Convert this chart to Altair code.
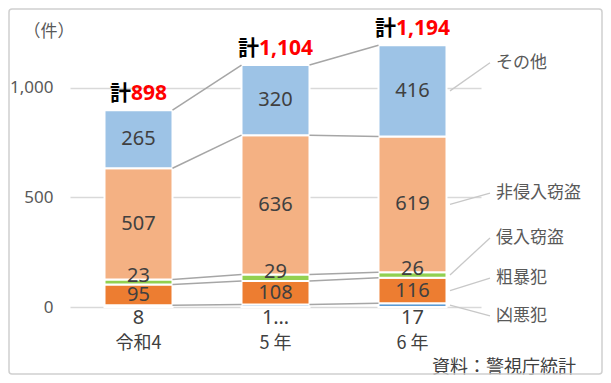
import altair as alt
import pandas as pd

# ---------------- data ----------------
years = ["令和4", "5 年", "6 年"]
categories = ["凶悪犯", "粗暴犯", "侵入窃盗", "非侵入窃盗", "その他"]
kyoaku = [8, 11, 17]
sobo = [95, 108, 116]
shinnyu = [23, 29, 26]
hishinnyu = [507, 636, 619]
sonota = [265, 320, 416]
totals = [898, 1104, 1194]
kyoaku_labels = ["8", "1…", "17"]
y_ticks = [0, 500, 1000]

# ---------------- style / layout ----------------
colors = ["#5B9BD5", "#ED7D31", "#92D050", "#F4B183", "#9DC3E6"]
PW, PH = 411, 274
PAD = {"left": 62, "top": 25, "right": 122, "bottom": 68}
UNIT = PW / 3.0
HW = 34 / UNIT
Y_MAX = 1250
legend_label_y = [-41, 132, 315, 520, 1114]
LEADER_START = 380 / UNIT
LEADER_END = 420 / UNIT
LABEL_X = 426 / UNIT
GRAY_TXT = "#595959"
DARK_TXT = "#404040"
JP = "Noto Sans CJK JP"
NUM = "Noto Sans"

series = [kyoaku, sobo, shinnyu, hishinnyu, sonota]

seg_rows = []
cum = {}
for i, yr in enumerate(years):
    b = 0
    for c, cat in enumerate(categories):
        v = series[c][i]
        seg_rows.append({"year": yr, "cat": cat, "v": v,
                         "x0": i + 0.5 - HW, "x1": i + 0.5 + HW, "xc": i + 0.5,
                         "y0": b, "y1": b + v, "ym": b + v / 2})
        b += v
        cum[(i, c)] = b
seg = pd.DataFrame(seg_rows)
seg_mid = seg[~seg["cat"].isin(["凶悪犯", "侵入窃盗"])].reset_index(drop=True)
seg_shin = seg[seg["cat"] == "侵入窃盗"].reset_index(drop=True)

# series lines between bars (long format: two points per segment)
line_rows = []
for i in range(len(years) - 1):
    for c in range(len(categories)):
        g = f"s{i}_{c}"
        line_rows.append({"g": g, "x": i + 0.5 + HW, "y": cum[(i, c)]})
        line_rows.append({"g": g, "x": i + 1.5 - HW, "y": cum[(i + 1, c)]})
lines = pd.DataFrame(line_rows)

# leader lines for the category labels at the right
last = seg[seg["year"] == years[-1]].reset_index(drop=True)
lead_rows = []
for c, cat in enumerate(categories):
    lead_rows.append({"g": cat, "x": LEADER_START, "y": float(last.loc[c, "ym"])})
    lead_rows.append({"g": cat, "x": LEADER_END, "y": legend_label_y[c]})
leads = pd.DataFrame(lead_rows)
leg = pd.DataFrame({"cat": categories, "ye": legend_label_y, "xl": [LABEL_X] * 5})

def num_w(s, fs=21):
    return sum(0.27 * fs if ch == "," else 0.575 * fs for ch in s)

KEI_W = 21
tot_rows = []
for i, t in enumerate(totals):
    s = f"{t:,}"
    w = KEI_W + num_w(s)
    start = i + 0.5 - (w / 2) / UNIT
    tot_rows.append({"kei": "計", "num": s, "xk": start,
                     "xn": start + KEI_W / UNIT, "y": t})
tot = pd.DataFrame(tot_rows)

kdf = pd.DataFrame({"xc": [i + 0.5 for i in range(3)], "t": kyoaku_labels, "yr": years})

xs = alt.Scale(domain=[0, 3], nice=False, zero=False)
ys = alt.Scale(domain=[0, Y_MAX], nice=False)
yaxis = alt.Axis(values=y_ticks, format=",.0f", grid=True, domain=False,
                 ticks=False, labelFontSize=17, labelColor=GRAY_TXT,
                 labelFont=NUM, labelPadding=17, gridColor="#d9d9d9",
                 gridWidth=1.5, title=None)


def X(f):
    return alt.X(f, scale=xs, axis=None)


def Y(f):
    return alt.Y(f, scale=ys, axis=yaxis)


bars = alt.Chart(seg).mark_bar(stroke="white", strokeWidth=2).encode(
    x=X("x0:Q"), x2="x1", y=Y("y0:Q"), y2="y1",
    color=alt.Color("cat:N", scale=alt.Scale(domain=categories, range=colors), legend=None),
)

serlines = alt.Chart(lines).mark_line(color="#a6a6a6", strokeWidth=1.5).encode(
    x=X("x:Q"), y=Y("y:Q"), detail="g:N")

leaders = alt.Chart(leads).mark_line(color="#c8c8c8", strokeWidth=1.3).encode(
    x=X("x:Q"), y=Y("y:Q"), detail="g:N")

mid_labels = alt.Chart(seg_mid).mark_text(fontSize=20, font=NUM, color=DARK_TXT,
                                          baseline="middle").encode(
    x=X("xc:Q"), y=Y("ym:Q"), text="v:Q")

shin_labels = alt.Chart(seg_shin).mark_text(fontSize=20, font=NUM, color=DARK_TXT,
                                            baseline="middle", dy=-6).encode(
    x=X("xc:Q"), y=Y("ym:Q"), text="v:Q")

kyo_labels = alt.Chart(kdf).mark_text(fontSize=20, font=NUM, color=DARK_TXT,
                                      baseline="middle").encode(
    x=X("xc:Q"), y=alt.value(285), text="t:N")

cat_labels = alt.Chart(kdf).mark_text(fontSize=18, font=JP, color=DARK_TXT,
                                      baseline="middle").encode(
    x=X("xc:Q"), y=alt.value(311), text="yr:N")

kei = alt.Chart(tot).mark_text(fontSize=21, font=JP, fontWeight="bold", color="black",
                               align="left", baseline="alphabetic", dy=-10).encode(
    x=X("xk:Q"), y=Y("y:Q"), text="kei:N")
numt = alt.Chart(tot).mark_text(fontSize=21, font=NUM, fontWeight="bold", color="#FF0000",
                                align="left", baseline="alphabetic", dy=-10).encode(
    x=X("xn:Q"), y=Y("y:Q"), text="num:N")

leg_text = alt.Chart(leg).mark_text(fontSize=17, font=JP, color=GRAY_TXT,
                                    align="left", baseline="middle").encode(
    x=X("xl:Q"), y=Y("ye:Q"), text="cat:N")

unit = alt.Chart(pd.DataFrame({"t": ["（件）"]})).mark_text(
    fontSize=17, font=JP, color=GRAY_TXT, baseline="middle").encode(
    x=alt.value(-21), y=alt.value(-1), text="t:N")

source = alt.Chart(pd.DataFrame({"t": ["資料：警視庁統計"]})).mark_text(
    fontSize=18, font=JP, color=DARK_TXT, baseline="middle", align="right").encode(
    x=alt.value(506), y=alt.value(335), text="t:N")

border = alt.Chart(pd.DataFrame({"a": [0]})).mark_rect(
    fill="white", fillOpacity=0, stroke="#d0d0d0", strokeWidth=1.5, cornerRadius=3).encode(
    x=alt.value(-PAD["left"] + 1), x2=alt.value(PW + PAD["right"] - 1),
    y=alt.value(-PAD["top"] + 1), y2=alt.value(PH + PAD["bottom"] - 1))

chart = alt.layer(
    bars, serlines, leaders, mid_labels, shin_labels, kyo_labels, cat_labels,
    kei, numt, leg_text, unit, source, border
).properties(
    width=PW, height=PH,
    autosize=alt.AutoSizeParams(type="none"),
    padding=PAD,
    background="white",
).configure_view(strokeWidth=0)

chart.save("out.html", embed_options={"renderer": "svg", "actions": False})
